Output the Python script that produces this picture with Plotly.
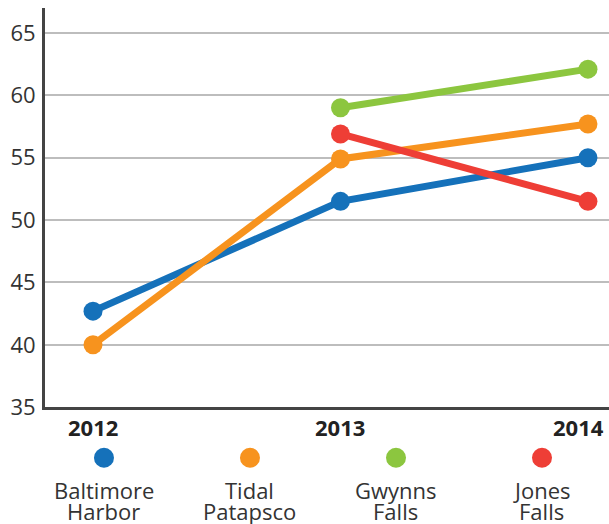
import plotly.graph_objects as go

years = [2012, 2013, 2014]
series_names = ["Baltimore<br>Harbor", "Tidal<br>Patapsco", "Gwynns<br>Falls", "Jones<br>Falls"]
baltimore = [42.7, 51.5, 55.0]
patapsco = [40.0, 54.9, 57.7]
gwynns = [None, 59.0, 62.1]
jones = [None, 56.9, 51.5]
colors = ["#1571BA", "#F7931E", "#8CC63F", "#EE3E36"]
y_ticks = [35, 40, 45, 50, 55, 60, 65]

font = "Open Sans"
fig = go.Figure()

for vals, c in zip([baltimore, patapsco, gwynns, jones], colors):
    fig.add_trace(go.Scatter(x=years, y=vals, mode="lines+markers",
                             line=dict(color=c, width=7),
                             marker=dict(color=c, size=19),
                             showlegend=False, hoverinfo="skip"))

# legend row drawn on its own little axis pair
idx = list(range(len(series_names)))
fig.add_trace(go.Scatter(x=idx, y=[0.52] * 4, mode="markers",
                         marker=dict(color=colors, size=20),
                         xaxis="x2", yaxis="y2", showlegend=False, hoverinfo="skip"))
for i, name in enumerate(series_names):
    for k, line in enumerate(name.split("<br>")):
        fig.add_annotation(x=i, y=0.2, xref="x2", yref="y2", text=line, showarrow=False,
                           yanchor="middle", yshift=-21 * k,
                           font=dict(family=font, size=22, color="#333"))

bottom = 0.2048
for yr in years:
    last = yr == years[-1]
    fig.add_annotation(x=yr, y=bottom, xref="x", yref="paper", text="<b>%d</b>" % yr,
                       showarrow=False, yanchor="middle",
                       xanchor="right" if last else "center", xshift=18 if last else 0,
                       yshift=-20, font=dict(family=font, size=22, color="#222"))

fig.update_layout(
    width=609, height=524,
    margin=dict(l=45, r=0, t=8, b=8),
    paper_bgcolor="white", plot_bgcolor="white",
    font=dict(family=font, color="#333"),
    xaxis=dict(range=[2011.806, 2014.085], showticklabels=False, showgrid=False,
               zeroline=False, showline=True, linecolor="#444", linewidth=3, ticks=""),
    yaxis=dict(domain=[bottom, 1], range=[35, 67], tickvals=y_ticks,
               showgrid=True, gridcolor="#BDBDBD", gridwidth=2, zeroline=False,
               showline=True, linecolor="#444", linewidth=3, ticks="",
               tickfont=dict(size=22, color="#333"), ticklabelstandoff=2),
    xaxis2=dict(domain=[0, 1], anchor="y2", range=[-0.404, 3.459], visible=False),
    yaxis2=dict(domain=[0, 0.2], anchor="x2", range=[0, 1], visible=False),
)

fig.write_html("out.html", config={"displayModeBar": False},
               post_script="document.body.style.margin='0';")
